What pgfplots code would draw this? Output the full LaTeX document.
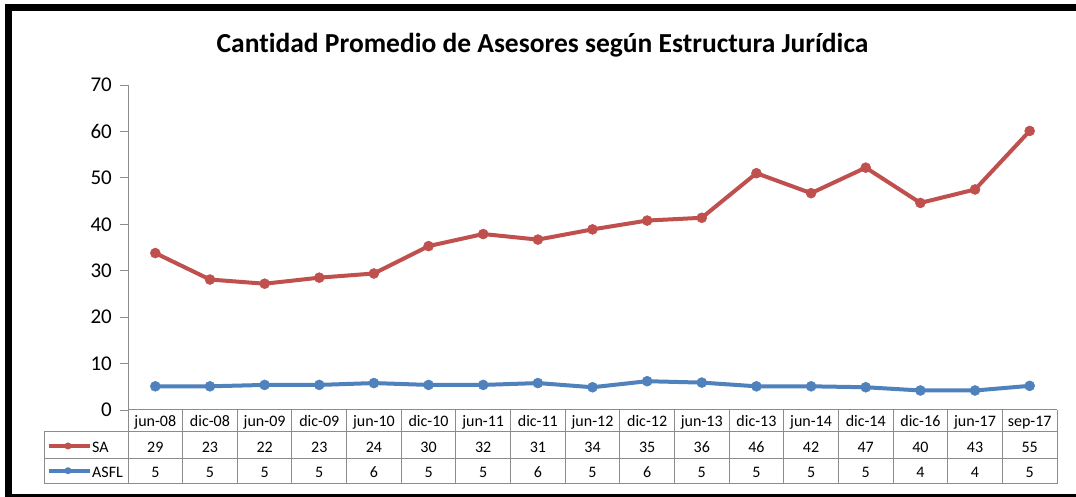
\documentclass[border=0pt]{standalone}
\usepackage{pgfplots}
\pgfplotsset{compat=1.18}
\usepackage{fontspec}
\setmainfont{Carlito}[Ligatures=NoCommon]
\definecolor{sared}{HTML}{C0504D}
\definecolor{asblue}{HTML}{4F81BD}
\definecolor{tgray}{HTML}{8C8C8C}
\begin{document}
\begin{tikzpicture}[x=1pt,y=1pt]
\useasboundingbox (0,0) rectangle (1076,497);
\fill[white] (0,0) rectangle (1076,497);
% frame
\draw[line width=7pt] (8,-10) -- (8,489.5) -- (1090,489.5);
\draw[line width=7pt] (4.5,-0.5) -- (1090,-0.5);
% title
\node[anchor=base, font=\fontsize{27.5}{27.5}\selectfont\bfseries] at (542.5,444) {Cantidad Promedio de Asesores según Estructura Jurídica};
\begin{axis}[at={(128pt,87pt)}, anchor=south west, scale only axis,
  width=929pt, height=325pt, xmin=-0.5, xmax=16.5, ymin=0, ymax=70,
  axis x line=none, axis y line*=left,
  ytick={0,10,...,70}, xtick=\empty,
  yticklabels={0,10,20,30,40,50,60,70},
  tick align=outside, major tick length=8pt,
  y axis line style={tgray, line width=0.8pt, -},
  ytick style={tgray, line width=0.8pt},
  tick label style={font=\fontsize{21}{21}\selectfont},
  yticklabel style={inner sep=0pt, xshift=-8pt},
  clip=false]
\addplot[sared, line width=4pt, mark=*, mark size=5pt, mark options={line width=0.5pt, fill=sared, draw=sared}] coordinates {
(0,33.8) (1,28.1) (2,27.2) (3,28.5) (4,29.4) (5,35.3) (6,37.9) (7,36.7) (8,38.9) (9,40.8) (10,41.4) (11,51.0) (12,46.7) (13,52.2) (14,44.6) (15,47.5) (16,60.1)};
\addplot[asblue, line width=4pt, mark=*, mark size=5pt, mark options={line width=0.5pt, fill=asblue, draw=asblue}] coordinates {
(0,5.1) (1,5.1) (2,5.4) (3,5.4) (4,5.8) (5,5.4) (6,5.4) (7,5.8) (8,4.9) (9,6.2) (10,5.9) (11,5.1) (12,5.1) (13,4.9) (14,4.2) (15,4.2) (16,5.2)};
\end{axis}
% table
\def\cw{54.647}
\foreach \k in {0,...,17} \draw[tgray, line width=1pt] ({128+\k*\cw},87) -- ({128+\k*\cw},13);
\draw[tgray, line width=1pt] (128,87) -- (1057,87);
\draw[tgray, line width=1pt] (44,65) -- (1057,65);
\draw[tgray, line width=1pt] (44,38) -- (1057,38);
\draw[tgray, line width=1pt] (44,13) -- (1057,13);
\draw[tgray, line width=1pt] (44,65) -- (44,13);
\foreach \lab [count=\i from 0] in {jun-08,dic-08,jun-09,dic-09,jun-10,dic-10,jun-11,dic-11,jun-12,dic-12,jun-13,dic-13,jun-14,dic-14,dic-16,jun-17,sep-17}
  \node[anchor=base, font=\fontsize{16}{16}\selectfont, inner sep=0pt] at ({128+(\i+0.5)*\cw},70) {\lab};
\foreach \v [count=\i from 0] in {29,23,22,23,24,30,32,31,34,35,36,46,42,47,40,43,55}
  \node[anchor=base, font=\fontsize{16}{16}\selectfont, inner sep=0pt] at ({128+(\i+0.5)*\cw},44.3) {\v};
\foreach \v [count=\i from 0] in {5,5,5,5,6,5,5,6,5,6,5,5,5,5,4,4,5}
  \node[anchor=base, font=\fontsize{16}{16}\selectfont, inner sep=0pt] at ({128+(\i+0.5)*\cw},19.3) {\v};
% legend keys
\draw[sared, line width=4pt] (49,51) -- (90,51);
\fill[sared] (68,51) circle (3.5);
\draw[asblue, line width=4pt] (49,26.3) -- (90,26.3);
\fill[asblue] (68,26.3) circle (3.5);
\node[anchor=base west, font=\fontsize{16}{16}\selectfont, inner sep=0pt] at (92,44.3) {SA};
\node[anchor=base west, font=\fontsize{16}{16}\selectfont, inner sep=0pt] at (92,19.3) {ASFL};
\end{tikzpicture}
\end{document}
